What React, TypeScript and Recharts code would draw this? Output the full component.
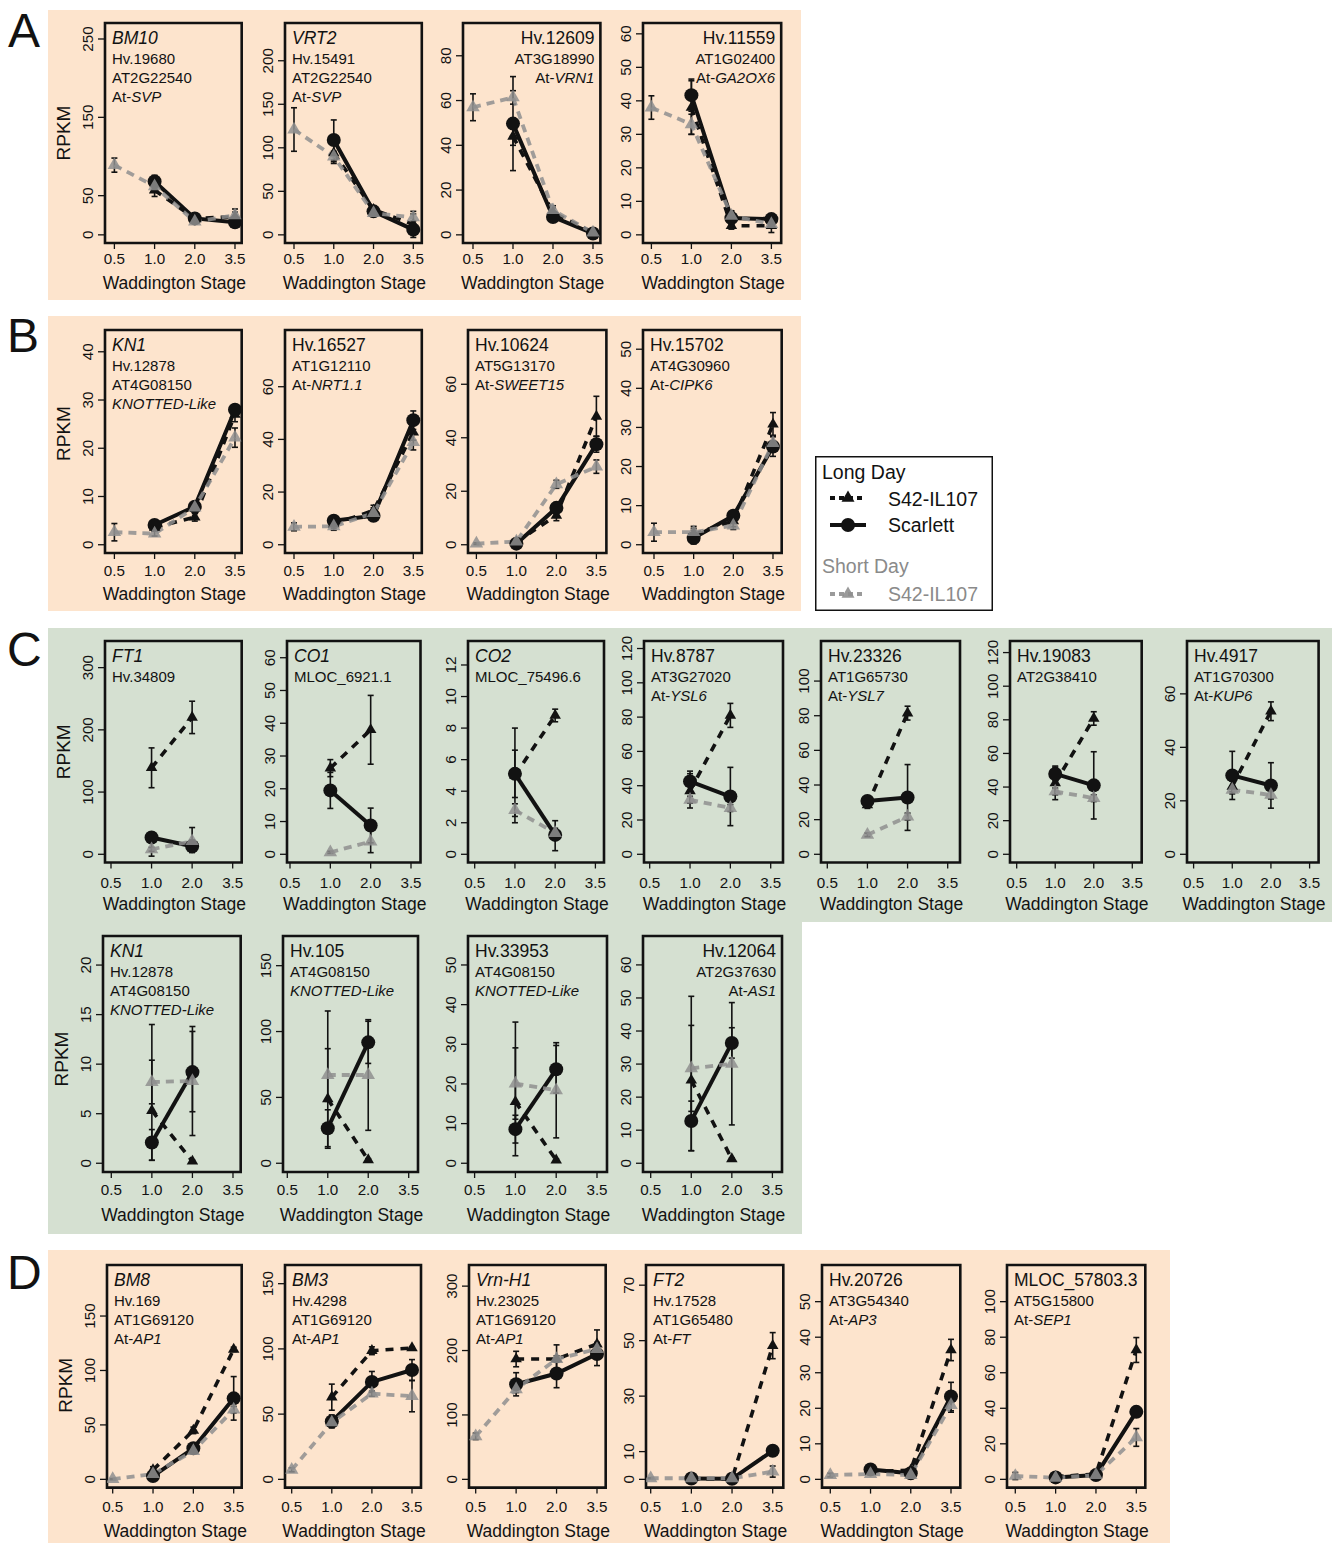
import React from "react";
import { LineChart, Line, XAxis, YAxis, ErrorBar, ReferenceArea, Legend } from "recharts";

type Num = number | null;
type Err = number | [number, number] | null;

const FONT = "'Liberation Sans', Arial, Helvetica, sans-serif";
const INK = "#121212";
const GRAY = "#8f8f8f";
const GRAY_TEXT = "#8a8a8a";
const PEACH = "#fde4cd";
const SAGE = "#d5e0d1";

const stageLabels = ["0.5", "1.0", "2.0", "3.5"];
const stagePos = [0, 1, 2, 3];
const legendTitles = ["Long Day", "Short Day"];
const seriesLabels = ["S42-IL107", "Scarlett", "S42-IL107"];
const xTitle = "Waddington Stage";
const yTitle = "RPKM";
const sectionLetters = ["A", "B", "C", "D"];

// ---------- Section A ----------
const A1_text = ["*BM10", "Hv.19680", "AT2G22540", "At-SVP"];
const A1_yMax = 260, A1_yTicks = [0, 50, 150, 250];
const A1_ld: Num[] = [null, 57, 21, 23], A1_ldErr: Err[] = [null, 8, 3, 10];
const A1_sc: Num[] = [null, 68, 21, 16], A1_scErr: Err[] = [null, 8, 3, 3];
const A1_sd: Num[] = [89, 62, 17, 25], A1_sdErr: Err[] = [9, 4, 2, 4];

const A2_text = ["*VRT2", "Hv.15491", "AT2G22540", "At-SVP"];
const A2_yMax = 234, A2_yTicks = [0, 50, 100, 150, 200];
const A2_ld: Num[] = [null, 94, 29, 12], A2_ldErr: Err[] = [null, 12, 4, 15];
const A2_sc: Num[] = [null, 109, 27, 6], A2_scErr: Err[] = [null, 23, 3, 2];
const A2_sd: Num[] = [121, 90, 25, 20], A2_sdErr: Err[] = [25, 6, 3, 4];

const A3_text = ["Hv.12609", "AT3G18990", "At-VRN1"];
const A3_yMax = 91, A3_yTicks = [0, 20, 40, 60, 80];
const A3_ld: Num[] = [null, 44, 10, 1], A3_ldErr: Err[] = [null, 4, 2, 0.5];
const A3_sc: Num[] = [null, 49.7, 8, 0.6], A3_scErr: Err[] = [null, 21, 1.5, 0.5];
const A3_sd: Num[] = [57, 61.4, 11, 1], A3_sdErr: Err[] = [6, 3, 2, 0.5];

const A4_text = ["Hv.11559", "AT1G02400", "At-GA2OX6"];
const A4_yMax = 60.8, A4_yTicks = [0, 10, 20, 30, 40, 50, 60];
const A4_ld: Num[] = [null, 38, 2.7, 2.7], A4_ldErr: Err[] = [null, 8, 1, 2];
const A4_sc: Num[] = [null, 41.7, 5, 4.7], A4_scErr: Err[] = [null, 4.8, 2, 1];
const A4_sd: Num[] = [38, 33, 5.7, 3.2], A4_sdErr: Err[] = [3.5, 3, 1.5, 1];

// ---------- Section B ----------
const B1_text = ["*KN1", "Hv.12878", "AT4G08150", "*KNOTTED-Like"];
const B1_yMax = 42.8, B1_yTicks = [0, 10, 20, 30, 40];
const B1_ld: Num[] = [null, 3.6, 5.7, 27], B1_ldErr: Err[] = [null, 0.8, 0.8, 1.5];
const B1_sc: Num[] = [null, 4.1, 7.9, 28], B1_scErr: Err[] = [null, 0.8, 1, 1];
const B1_sd: Num[] = [2.6, 2.3, 7.7, 22.2], B1_sdErr: Err[] = [1.8, 0.5, 1, 2];

const B2_text = ["Hv.16527", "AT1G12110", "At-NRT1.1"];
const B2_yMax = 78.4, B2_yTicks = [0, 20, 40, 60];
const B2_ld: Num[] = [null, 7.8, 13, 42.7], B2_ldErr: Err[] = [null, 1.5, 2, 3];
const B2_sc: Num[] = [null, 9.1, 11, 47.3], B2_scErr: Err[] = [null, 1.5, 2, 3.5];
const B2_sd: Num[] = [6.8, 7, 12, 39], B2_sdErr: Err[] = [1.5, 1.5, 2, 3];

const B3_text = ["Hv.10624", "AT5G13170", "At-SWEET15"];
const B3_yMax = 77.2, B3_yTicks = [0, 20, 40, 60];
const B3_ld: Num[] = [null, 1, 11, 48], B3_ldErr: Err[] = [null, 0.5, 2, 7.5];
const B3_sc: Num[] = [null, 0.4, 13.8, 37.6], B3_scErr: Err[] = [null, 0.5, 1.5, 3];
const B3_sd: Num[] = [0.4, 1.2, 22.6, 29.2], B3_sdErr: Err[] = [0.3, 0.5, 1.5, 2.5];

const B4_text = ["Hv.15702", "AT4G30960", "At-CIPK6"];
const B4_yMax = 52.8, B4_yTicks = [0, 10, 20, 30, 40, 50];
const B4_ld: Num[] = [null, 2.7, 6.1, 30.8], B4_ldErr: Err[] = [null, 1, 1.5, 3];
const B4_sc: Num[] = [null, 1.7, 7.4, 25.1], B4_scErr: Err[] = [null, [1.5, 3], 1, 2.5];
const B4_sd: Num[] = [3.2, 3.2, 4.9, 26], B4_sdErr: Err[] = [2.3, 1, 1, 2];

// ---------- Section C ----------
const C1_text = ["*FT1", "Hv.34809"];
const C1_yMax = 329.6, C1_yTicks = [0, 100, 200, 300];
const C1_ld: Num[] = [null, 139, 220, null], C1_ldErr: Err[] = [null, 32, 26, null];
const C1_sc: Num[] = [null, 27, 13, null], C1_scErr: Err[] = [null, [30, 8], 10, null];
const C1_sd: Num[] = [null, 8, 21, null], C1_sdErr: Err[] = [null, 3, [18, 22], null];

const C2_text = ["*CO1", "MLOC_6921.1"];
const C2_yMax = 62.6, C2_yTicks = [0, 10, 20, 30, 40, 50, 60];
const C2_ld: Num[] = [null, 26.3, 38, null], C2_ldErr: Err[] = [null, 2.6, 10.5, null];
const C2_sc: Num[] = [null, 19.5, 8.8, null], C2_scErr: Err[] = [null, 5.5, 5.3, null];
const C2_sd: Num[] = [null, 0.6, 3.9, null], C2_sdErr: Err[] = [null, 0.3, [3.4, 3.5], null];

const C3_text = ["*CO2", "MLOC_75496.6"];
const C3_yMax = 13.0, C3_yTicks = [0, 2, 4, 6, 8, 10, 12];
const C3_ld: Num[] = [null, 5.0, 8.8, null], C3_ldErr: Err[] = [null, 3.0, 0.4, null];
const C3_sc: Num[] = [null, 5.1, 1.23, null], C3_scErr: Err[] = [null, 1.5, [1.0, 0.9], null];
const C3_sd: Num[] = [null, 2.8, 1.35, null], C3_sdErr: Err[] = [null, 0.4, 0.3, null];

const C4_text = ["Hv.8787", "AT3G27020", "At-YSL6"];
const C4_yMax = 119.6, C4_yTicks = [0, 20, 40, 60, 80, 100, 120];
const C4_ld: Num[] = [null, 37, 81, null], C4_ldErr: Err[] = [null, 10, 7, null];
const C4_sc: Num[] = [null, 42.5, 33.7, null], C4_scErr: Err[] = [null, 6, 17, null];
const C4_sd: Num[] = [null, 31.8, 27, null], C4_sdErr: Err[] = [null, 2, 2, null];

const C5_text = ["Hv.23326", "AT1G65730", "At-YSL7"];
const C5_yMax = 118.4, C5_yTicks = [0, 20, 40, 60, 80, 100];
const C5_ld: Num[] = [null, 28.5, 81.5, null], C5_ldErr: Err[] = [null, 2, 4, null];
const C5_sc: Num[] = [null, 30.8, 32.8, null], C5_scErr: Err[] = [null, 3, 19, null];
const C5_sd: Num[] = [null, 11.2, 21.8, null], C5_sdErr: Err[] = [null, 1, 2, null];

const C6_text = ["Hv.19083", "AT2G38410"];
const C6_yMax = 122, C6_yTicks = [0, 20, 40, 60, 80, 100, 120];
const C6_ld: Num[] = [null, 42.5, 80.8, null], C6_ldErr: Err[] = [null, 10, 4, null];
const C6_sc: Num[] = [null, 47.8, 41, null], C6_scErr: Err[] = [null, 4, 20, null];
const C6_sd: Num[] = [null, 37.4, 33.4, null], C6_sdErr: Err[] = [null, 2, 2, null];

const C7_text = ["Hv.4917", "AT1G70300", "At-KUP6"];
const C7_yMax = 76.7, C7_yTicks = [0, 20, 40, 60];
const C7_ld: Num[] = [null, 25.4, 53.5, null], C7_ldErr: Err[] = [null, 2, 3.5, null];
const C7_sc: Num[] = [null, 29.5, 25.75, null], C7_scErr: Err[] = [null, 9, 8.5, null];
const C7_sd: Num[] = [null, 24.1, 22.2, null], C7_sdErr: Err[] = [null, 1.5, 1.5, null];

const C8_text = ["*KN1", "Hv.12878", "AT4G08150", "*KNOTTED-Like"];
const C8_yMax = 22.05, C8_yTicks = [0, 5, 10, 15, 20];
const C8_ld: Num[] = [null, 5.3, 0.2, null], C8_ldErr: Err[] = [null, [5.0, 8.7], 0.1, null];
const C8_sc: Num[] = [null, 2.1, 9.2, null], C8_scErr: Err[] = [null, [1.8, 1.3], [6.4, 4.1], null];
const C8_sd: Num[] = [null, 8.2, 8.3, null], C8_sdErr: Err[] = [null, 2.2, [3.1, 5.5], null];

const C9_text = ["Hv.105", "AT4G08150", "*KNOTTED-Like"];
const C9_yMax = 165.9, C9_yTicks = [0, 50, 100, 150];
const C9_ld: Num[] = [null, 48.8, 2.5, null], C9_ldErr: Err[] = [null, [37.4, 66.8], 1, null];
const C9_sc: Num[] = [null, 26.6, 91.8, null], C9_scErr: Err[] = [null, 14, 16, null];
const C9_sd: Num[] = [null, 67, 67, null], C9_sdErr: Err[] = [null, 20, 42, null];

const C10_text = ["Hv.33953", "AT4G08150", "*KNOTTED-Like"];
const C10_yMax = 55.1, C10_yTicks = [0, 10, 20, 30, 40, 50];
const C10_ld: Num[] = [null, 15.5, 0.8, null], C10_ldErr: Err[] = [null, [13.6, 20.1], 0.3, null];
const C10_sc: Num[] = [null, 8.6, 23.7, null], C10_scErr: Err[] = [null, 3.5, 6, null];
const C10_sd: Num[] = [null, 20.1, 18.4, null], C10_sdErr: Err[] = [null, 9, 12, null];

const C11_text = ["Hv.12064", "AT2G37630", "At-AS1"];
const C11_yMax = 66.1, C11_yTicks = [0, 10, 20, 30, 40, 50, 60];
const C11_ld: Num[] = [null, 25.1, 1.3, null], C11_ldErr: Err[] = [null, [21.3, 25.4], 0.3, null];
const C11_sc: Num[] = [null, 12.8, 36.4, null], C11_scErr: Err[] = [null, [9, 6], 4.6, null];
const C11_sd: Num[] = [null, 28.7, 30.1, null], C11_sdErr: Err[] = [null, 13, 18.5, null];

// ---------- Section D ----------
const D1_text = ["*BM8", "Hv.169", "AT1G69120", "At-AP1"];
const D1_yMax = 189.3, D1_yTicks = [0, 50, 100, 150];
const D1_ld: Num[] = [null, 8.6, 45, 119.4], D1_ldErr: Err[] = [null, 3, 3, 2];
const D1_sc: Num[] = [null, 3, 28.5, 74.4], D1_scErr: Err[] = [null, 1, 3, 20];
const D1_sd: Num[] = [0.2, 4.9, 26, 64], D1_sdErr: Err[] = [0.5, 1, 2, 3];

const D2_text = ["*BM3", "Hv.4298", "AT1G69120", "At-AP1"];
const D2_yMax = 158, D2_yTicks = [0, 50, 100, 150];
const D2_ld: Num[] = [null, 63, 98.6, 100.7], D2_ldErr: Err[] = [null, 10, 3, 1];
const D2_sc: Num[] = [null, 44.4, 74.7, 83.8], D2_scErr: Err[] = [null, 5, 8, 8];
const D2_sd: Num[] = [7.3, 43.6, 65.7, 63.8], D2_sdErr: Err[] = [1.5, 3, 2, 12];

const D3_text = ["*Vrn-H1", "Hv.23025", "AT1G69120", "At-AP1"];
const D3_yMax = 320, D3_yTicks = [0, 100, 200, 300];
const D3_ld: Num[] = [null, 186.8, 186.8, 210], D3_ldErr: Err[] = [null, 12, 22, 22];
const D3_sc: Num[] = [null, 147.6, 164.3, 194.6], D3_scErr: Err[] = [null, 18, 22, 18];
const D3_sd: Num[] = [66.8, 139.8, 186.8, 202.4], D3_sdErr: Err[] = [5, 5, 5, 5];

const D4_text = ["*FT2", "Hv.17528", "AT1G65480", "At-FT"];
const D4_yMax = 74.3, D4_yTicks = [0, 10, 30, 50, 70];
const D4_ld: Num[] = [null, 0.1, 0.1, 48.2], D4_ldErr: Err[] = [null, 0.1, 0.1, 4.7];
const D4_sc: Num[] = [null, 0.3, 0.2, 10.3], D4_scErr: Err[] = [null, 0.2, 0.2, 0.5];
const D4_sd: Num[] = [0.4, 0.4, 0.4, 2.8], D4_sdErr: Err[] = [0.2, 0.2, 0.2, 2];

const D5_text = ["Hv.20726", "AT3G54340", "At-AP3"];
const D5_yMax = 58, D5_yTicks = [0, 10, 20, 30, 40, 50];
const D5_ld: Num[] = [null, 2.2, 2.6, 36.4], D5_ldErr: Err[] = [null, 0.5, 0.5, 3];
const D5_sc: Num[] = [null, 2.8, 1.7, 23.3], D5_scErr: Err[] = [null, 0.8, 0.8, 4];
const D5_sd: Num[] = [1.2, 1.5, 1.2, 20.9], D5_sdErr: Err[] = [0.5, 0.3, 0.3, 2];

const D6_text = ["MLOC_57803.3", "AT5G15800", "At-SEP1"];
const D6_yMax = 116, D6_yTicks = [0, 20, 40, 60, 80, 100];
const D6_ld: Num[] = [null, 1.5, 3, 72.8], D6_ldErr: Err[] = [null, 0.5, 1, 7];
const D6_sc: Num[] = [null, 1.1, 2.4, 38], D6_scErr: Err[] = [null, 0.5, 0.5, 2];
const D6_sd: Num[] = [1.9, 0.9, 2.4, 23.6], D6_sdErr: Err[] = [2, 0.5, 0.5, 5];

// ---------- layout ----------
const ROWS = {
  A: { top: 23.2, h: 220, tickOff: 15.2, titleOff: 40.2, rpkmDy: 0 },
  B: { top: 330, h: 223, tickOff: 17.7, titleOff: 41, rpkmDy: -8 },
  C1: { top: 641.3, h: 221.5, tickOff: 20, titleOff: 42, rpkmDy: 0 },
  C2: { top: 936.3, h: 236, tickOff: 18, titleOff: 43, rpkmDy: 5 },
  D: { top: 1265, h: 222.6, tickOff: 19, titleOff: 43.5, rpkmDy: 9 },
};

type PanelDef = {
  row: keyof typeof ROWS;
  geo: [number, number, number, number]; // box left, box right, x of first tick, x of last tick
  align?: "right";
  rpkm?: boolean;
  legend?: boolean;
  text: string[];
  yMax: number;
  yTicks: number[];
  ld: Num[]; ldErr: Err[]; sc: Num[]; scErr: Err[]; sd: Num[]; sdErr: Err[];
};

const mk = (row: keyof typeof ROWS, geo: [number, number, number, number], text: string[], yMax: number, yTicks: number[],
  ld: Num[], ldErr: Err[], sc: Num[], scErr: Err[], sd: Num[], sdErr: Err[], extra: Partial<PanelDef> = {}): PanelDef =>
  ({ row, geo, text, yMax, yTicks, ld, ldErr, sc, scErr, sd, sdErr, ...extra });

const PANELS: PanelDef[] = [
  mk("A", [105.3, 242, 114.7, 235.3], A1_text, A1_yMax, A1_yTicks, A1_ld, A1_ldErr, A1_sc, A1_scErr, A1_sd, A1_sdErr, { rpkm: true }),
  mk("A", [284.7, 421.5, 293.7, 413], A2_text, A2_yMax, A2_yTicks, A2_ld, A2_ldErr, A2_sc, A2_scErr, A2_sd, A2_sdErr),
  mk("A", [463.3, 600.7, 473.3, 593.3], A3_text, A3_yMax, A3_yTicks, A3_ld, A3_ldErr, A3_sc, A3_scErr, A3_sd, A3_sdErr, { align: "right" }),
  mk("A", [643.3, 781.5, 651.7, 771.7], A4_text, A4_yMax, A4_yTicks, A4_ld, A4_ldErr, A4_sc, A4_scErr, A4_sd, A4_sdErr, { align: "right" }),
  mk("B", [105.3, 242, 114.7, 235.3], B1_text, B1_yMax, B1_yTicks, B1_ld, B1_ldErr, B1_sc, B1_scErr, B1_sd, B1_sdErr, { rpkm: true }),
  mk("B", [284.7, 421.5, 293.7, 413], B2_text, B2_yMax, B2_yTicks, B2_ld, B2_ldErr, B2_sc, B2_scErr, B2_sd, B2_sdErr),
  mk("B", [468.3, 606.7, 476.7, 596.7], B3_text, B3_yMax, B3_yTicks, B3_ld, B3_ldErr, B3_sc, B3_scErr, B3_sd, B3_sdErr),
  mk("B", [643.3, 782, 654.3, 773.3], B4_text, B4_yMax, B4_yTicks, B4_ld, B4_ldErr, B4_sc, B4_scErr, B4_sd, B4_sdErr, { legend: true }),
  mk("C1", [105.3, 242, 111.3, 233], C1_text, C1_yMax, C1_yTicks, C1_ld, C1_ldErr, C1_sc, C1_scErr, C1_sd, C1_sdErr, { rpkm: true }),
  mk("C1", [286.5, 420, 289.5, 410.5], C2_text, C2_yMax, C2_yTicks, C2_ld, C2_ldErr, C2_sc, C2_scErr, C2_sd, C2_sdErr),
  mk("C1", [468.3, 604.3, 475, 595.7], C3_text, C3_yMax, C3_yTicks, C3_ld, C3_ldErr, C3_sc, C3_scErr, C3_sd, C3_sdErr),
  mk("C1", [644.3, 783.3, 650, 771], C4_text, C4_yMax, C4_yTicks, C4_ld, C4_ldErr, C4_sc, C4_scErr, C4_sd, C4_sdErr),
  mk("C1", [821, 960, 827.3, 947.7], C5_text, C5_yMax, C5_yTicks, C5_ld, C5_ldErr, C5_sc, C5_scErr, C5_sd, C5_sdErr),
  mk("C1", [1010, 1141.7, 1016.7, 1132.3], C6_text, C6_yMax, C6_yTicks, C6_ld, C6_ldErr, C6_sc, C6_scErr, C6_sd, C6_sdErr),
  mk("C1", [1186.7, 1318.3, 1193.3, 1309.3], C7_text, C7_yMax, C7_yTicks, C7_ld, C7_ldErr, C7_sc, C7_scErr, C7_sd, C7_sdErr),
  mk("C2", [103, 240.7, 111.3, 233], C8_text, C8_yMax, C8_yTicks, C8_ld, C8_ldErr, C8_sc, C8_scErr, C8_sd, C8_sdErr, { rpkm: true }),
  mk("C2", [283, 418, 287.3, 408.7], C9_text, C9_yMax, C9_yTicks, C9_ld, C9_ldErr, C9_sc, C9_scErr, C9_sd, C9_sdErr),
  mk("C2", [467.7, 606.7, 474.3, 596.7], C10_text, C10_yMax, C10_yTicks, C10_ld, C10_ldErr, C10_sc, C10_scErr, C10_sd, C10_sdErr),
  mk("C2", [643.3, 782.3, 651, 772.7], C11_text, C11_yMax, C11_yTicks, C11_ld, C11_ldErr, C11_sc, C11_scErr, C11_sd, C11_sdErr, { align: "right" }),
  mk("D", [107.3, 242, 113, 234], D1_text, D1_yMax, D1_yTicks, D1_ld, D1_ldErr, D1_sc, D1_scErr, D1_sd, D1_sdErr, { rpkm: true }),
  mk("D", [285.3, 421.3, 292, 412.3], D2_text, D2_yMax, D2_yTicks, D2_ld, D2_ldErr, D2_sc, D2_scErr, D2_sd, D2_sdErr),
  mk("D", [469.3, 606, 476, 597.3], D3_text, D3_yMax, D3_yTicks, D3_ld, D3_ldErr, D3_sc, D3_scErr, D3_sd, D3_sdErr),
  mk("D", [646, 783.3, 650.7, 772.7], D4_text, D4_yMax, D4_yTicks, D4_ld, D4_ldErr, D4_sc, D4_scErr, D4_sd, D4_sdErr),
  mk("D", [821.7, 960, 830, 950.7], D5_text, D5_yMax, D5_yTicks, D5_ld, D5_ldErr, D5_sc, D5_scErr, D5_sd, D5_sdErr),
  mk("D", [1006.7, 1145, 1015, 1136], D6_text, D6_yMax, D6_yTicks, D6_ld, D6_ldErr, D6_sc, D6_scErr, D6_sd, D6_sdErr),
];

const YW = 62, MT = 6, MR = 6, XH = 62;
const LINE_BASE = [20.8, 40.5, 60, 79];
const TICK_FS = 15.2;
const LEGEND_POS = { left: 815, top: 456, width: 178, height: 155 };

const triPath = (cx: number, cy: number, s: number) => {
  const h = s * 0.866;
  return `M${cx},${cy - (2 * h) / 3}L${cx + s / 2},${cy + h / 3}L${cx - s / 2},${cy + h / 3}Z`;
};

const isBad = (props: any) => {
  const { cx, cy } = props;
  const v = props.payload && props.dataKey ? props.payload[props.dataKey] : props.value;
  return v == null || cx == null || cy == null || Number.isNaN(cx) || Number.isNaN(cy);
};

const triDot = (size: number, fill: string, opacity: number) => (props: any) => {
  if (isBad(props)) return <g key={props.key} />;
  return <path key={props.key} d={triPath(props.cx, props.cy, size)} fill={fill} fillOpacity={opacity} />;
};

const circleDot = (props: any) => {
  if (isBad(props)) return <g key={props.key} />;
  return <circle key={props.key} cx={props.cx} cy={props.cy} r={7} fill={INK} />;
};

function AnnotLine({ s, i, x, anchor, y }: { s: string; i: number; x: number; anchor: "start" | "end"; y: number }) {
  const size = i === 0 ? 17.5 : 15;
  let content: React.ReactNode = s;
  if (s.startsWith("*")) content = <tspan fontStyle="italic">{s.slice(1)}</tspan>;
  else if (s.startsWith("At-")) content = <>At-<tspan fontStyle="italic">{s.slice(3)}</tspan></>;
  return (
    <text x={x} y={y} fontSize={size} textAnchor={anchor} fontFamily={FONT} fill={INK}>
      {content}
    </text>
  );
}

function LegendBox() {
  const w = LEGEND_POS.width, h = LEGEND_POS.height;
  return (
    <svg width={w} height={h} style={{ display: "block", overflow: "visible" }}>
      <rect x={0.75} y={0.75} width={w - 1.5} height={h - 1.5} fill="#ffffff" stroke={INK} strokeWidth={1.5} />
      <text x={7} y={23} fontSize={19.5} fontFamily={FONT} fill={INK}>{legendTitles[0]}</text>
      <line x1={15} x2={51} y1={42} y2={42} stroke={INK} strokeWidth={4} strokeDasharray="5 4" />
      <path d={triPath(33, 42, 13)} fill={INK} />
      <text x={73} y={49.5} fontSize={19.5} fontFamily={FONT} fill={INK}>{seriesLabels[0]}</text>
      <line x1={15} x2={51} y1={69} y2={69} stroke={INK} strokeWidth={4} />
      <circle cx={33} cy={69} r={7} fill={INK} />
      <text x={73} y={76} fontSize={19.5} fontFamily={FONT} fill={INK}>{seriesLabels[1]}</text>
      <text x={7} y={117} fontSize={19.5} fontFamily={FONT} fill={GRAY_TEXT}>{legendTitles[1]}</text>
      <line x1={15} x2={51} y1={138} y2={138} stroke={GRAY} strokeOpacity={0.9} strokeWidth={4} strokeDasharray="5 4" />
      <path d={triPath(33, 138, 13)} fill={GRAY} fillOpacity={0.9} />
      <text x={73} y={145} fontSize={19.5} fontFamily={FONT} fill={GRAY_TEXT}>{seriesLabels[2]}</text>
    </svg>
  );
}

function Panel({ p }: { p: PanelDef }) {
  const row = ROWS[p.row];
  const [left, right, t0, t3] = p.geo;
  const boxW = right - left;
  const step = (t3 - t0) / 3;
  const xLo = (left - t0) / step;
  const xHi = (right - t0) / step;
  const yLo = -0.04 * p.yMax;
  const yHi = 1.04 * p.yMax;
  const W = YW + boxW + MR;
  const H = MT + row.h + XH;
  const bottom = MT + row.h;
  const chartLeft = left - YW;
  const chartTop = row.top - MT;

  const data = stagePos.map((x, i) => ({
    x,
    ld: p.ld[i], ldErr: p.ldErr[i],
    sc: p.sc[i], scErr: p.scErr[i],
    sd: p.sd[i], sdErr: p.sdErr[i],
  }));

  const xTick = (t: any) => (
    <text x={t.x} y={bottom + row.tickOff + 5.4} textAnchor="middle" fontSize={TICK_FS} fontFamily={FONT} fill={INK}>
      {stageLabels[t.payload.value]}
    </text>
  );
  const yTick = (t: any) => {
    const xb = YW - 12;
    return (
      <text x={xb} y={t.y} transform={`rotate(-90 ${xb} ${t.y})`} textAnchor="middle" fontSize={TICK_FS} fontFamily={FONT} fill={INK}>
        {t.payload.value}
      </text>
    );
  };

  const anchor = p.align === "right" ? "end" : "start";
  const tx = p.align === "right" ? YW + boxW - 6 : YW + 7;

  return (
    <div style={{ position: "absolute", left: chartLeft, top: chartTop, width: W, height: H }}>
      <LineChart width={W} height={H} data={data} margin={{ top: MT, right: MR, bottom: 0, left: 0 }}>
        <XAxis
          type="number" dataKey="x" domain={[xLo, xHi]} ticks={[0, 1, 2, 3]} interval={0} allowDataOverflow
          height={XH} axisLine={false} tickSize={6} stroke={INK} tickLine={{ stroke: INK, strokeWidth: 1.3 }} tick={xTick}
        />
        <YAxis
          type="number" domain={[yLo, yHi]} ticks={p.yTicks} interval={0} allowDataOverflow
          width={YW} axisLine={false} tickSize={7} stroke={INK} tickLine={{ stroke: INK, strokeWidth: 1.3 }} tick={yTick}
        />
        <ReferenceArea x1={xLo} x2={xHi} y1={yLo} y2={yHi} fill="none" fillOpacity={0} stroke={INK} strokeWidth={2.6} ifOverflow="visible" />
        <Line
          dataKey="ld" name={seriesLabels[0]} stroke={INK} strokeWidth={3.6} strokeDasharray="8 7"
          dot={triDot(11.5, INK, 1)} activeDot={false} isAnimationActive={false} legendType="triangle"
        >
          <ErrorBar dataKey="ldErr" width={3} stroke={INK} strokeWidth={1.6} direction="y" isAnimationActive={false} />
        </Line>
        <Line
          dataKey="sc" name={seriesLabels[1]} stroke={INK} strokeWidth={4}
          dot={circleDot} activeDot={false} isAnimationActive={false} legendType="circle"
        >
          <ErrorBar dataKey="scErr" width={3} stroke={INK} strokeWidth={1.6} direction="y" isAnimationActive={false} />
        </Line>
        <Line
          dataKey="sd" name={seriesLabels[2]} stroke={GRAY} strokeOpacity={0.85} strokeWidth={3.8} strokeDasharray="8 6"
          dot={triDot(13.5, GRAY, 0.85)} activeDot={false} isAnimationActive={false} legendType="triangle"
        >
          <ErrorBar dataKey="sdErr" width={3} stroke={INK} strokeWidth={1.6} direction="y" isAnimationActive={false} />
        </Line>
        {p.legend ? (
          <Legend
            layout="horizontal" verticalAlign="middle" align="center"
            content={() => <LegendBox />}
            wrapperStyle={{
              position: "absolute", margin: 0,
              left: LEGEND_POS.left - chartLeft, top: LEGEND_POS.top - chartTop,
              width: LEGEND_POS.width, height: LEGEND_POS.height,
            }}
          />
        ) : null}
      </LineChart>
      <svg
        width={W} height={H}
        style={{ position: "absolute", left: 0, top: 0, overflow: "visible", pointerEvents: "none" }}
      >
        {p.text.map((s, i) => (
          <AnnotLine key={i} s={s} i={i} x={tx} anchor={anchor} y={MT + LINE_BASE[i]} />
        ))}
        <text x={YW + boxW / 2 + 1} y={bottom + row.titleOff + 5.8} textAnchor="middle" fontSize={17.5} fontFamily={FONT} fill={INK}>
          {xTitle}
        </text>
        {p.rpkm ? (
          <text
            x={YW - 35} y={MT + row.h / 2 + row.rpkmDy}
            transform={`rotate(-90 ${YW - 35} ${MT + row.h / 2 + row.rpkmDy})`}
            textAnchor="middle" fontSize={19} fontFamily={FONT} fill={INK}
          >
            {yTitle}
          </text>
        ) : null}
      </svg>
    </div>
  );
}

export default function App() {
  return (
    <div style={{ position: "absolute", left: 0, top: 0, width: 1332, height: 1543, background: "#ffffff", fontFamily: FONT, overflow: "hidden" }}>
      <div style={{ position: "absolute", left: 48, top: 10, width: 753, height: 290, background: PEACH }} />
      <div style={{ position: "absolute", left: 48, top: 316, width: 753, height: 295, background: PEACH }} />
      <div style={{ position: "absolute", left: 48, top: 628, width: 1284, height: 294, background: SAGE }} />
      <div style={{ position: "absolute", left: 48, top: 922, width: 754, height: 312, background: SAGE }} />
      <div style={{ position: "absolute", left: 48, top: 1250, width: 1122, height: 293, background: PEACH }} />
      <svg width={1332} height={1543} style={{ position: "absolute", left: 0, top: 0, pointerEvents: "none" }}>
        <text x={8} y={47} fontSize={48} fontFamily={FONT} fill={INK}>{sectionLetters[0]}</text>
        <text x={7} y={352} fontSize={48} fontFamily={FONT} fill={INK}>{sectionLetters[1]}</text>
        <text x={7} y={666} fontSize={48} fontFamily={FONT} fill={INK}>{sectionLetters[2]}</text>
        <text x={7} y={1289} fontSize={48} fontFamily={FONT} fill={INK}>{sectionLetters[3]}</text>
      </svg>
      {PANELS.map((p, i) => (
        <Panel key={i} p={p} />
      ))}
    </div>
  );
}
